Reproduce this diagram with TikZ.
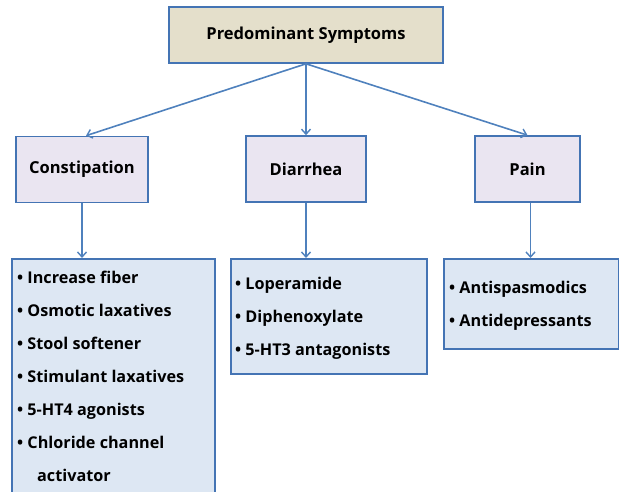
\documentclass[tikz,border=0pt]{standalone}
\usepackage{fontspec}
\setmainfont{Open Sans}
\usetikzlibrary{arrows.meta}
\definecolor{topfill}{HTML}{E4DFCB}
\definecolor{catfill}{HTML}{EAE5F1}
\definecolor{listfill}{HTML}{DDE7F3}
\definecolor{edge}{HTML}{4474B4}
\definecolor{arrowc}{HTML}{4F81BD}
\tikzset{
  box/.style={draw=edge, line width=1.6pt, inner sep=0pt},
  topbox/.style={box, fill=topfill, minimum width=274pt, minimum height=56pt, font=\bfseries\fontsize{16.5}{18}\selectfont},
  catbox/.style={box, fill=catfill, minimum height=66pt, font=\bfseries\fontsize{16.5}{18}\selectfont},
  listbox/.style={box, fill=listfill, anchor=north west},
  listtext/.style={anchor=north west, align=left, inner sep=0pt, font=\bfseries\fontsize{16.2}{33}\selectfont},
  conn/.style={draw=arrowc, line width=1.6pt, -{Straight Barb[length=5pt,width=9pt,line width=1.4pt]}}
}
\begin{document}
\begin{tikzpicture}[x=1pt,y=-1pt]
\useasboundingbox (0,0) rectangle (619,492);
\clip (0,0) rectangle (619,492);
\node[topbox] (top) at (306,35) {Predominant Symptoms};
\node[catbox, minimum width=132pt] (cons) at (82,169.5) {Constipation};
\node[catbox, minimum width=120pt] (diar) at (306,169) {Diarrhea};
\node[catbox, minimum width=105pt] (pain) at (527.5,169) {Pain};
\node[listbox, minimum width=203pt, minimum height=260pt] (consl) at (11,258) {};
\node[listbox, minimum width=196pt, minimum height=115pt] (diarl) at (230,258) {};
\node[listbox, minimum width=175pt, minimum height=90pt] (painl) at (443,258) {};
\node[listtext] (const) at (17,271) {\textbullet\ Increase fiber\\ \textbullet\ Osmotic laxatives\\ \textbullet\ Stool softener\\ \textbullet\ Stimulant laxatives\\ \textbullet\ 5-HT4 agonists\\ \textbullet\ Chloride channel\\ \hspace{20pt}activator};
\node[listtext] (diart) at (235,277) {\textbullet\ Loperamide\\ \textbullet\ Diphenoxylate\\ \textbullet\ 5-HT3 antagonists};
\node[listtext] (paint) at (449,281) {\textbullet\ Antispasmodics\\ \textbullet\ Antidepressants};
\draw[conn] (top.south) -- ([xshift=4pt]cons.north);
\draw[conn] (top.south) -- (diar.north);
\draw[conn] (top.south) -- (pain.north);
\draw[conn] (cons.south) -- (cons.south |- consl.north);
\draw[conn] (diar.south) -- (diar.south |- diarl.north);
\draw[conn] ([xshift=3pt]pain.south) -- ([xshift=3pt]pain.south |- painl.north);
\end{tikzpicture}
\end{document}
